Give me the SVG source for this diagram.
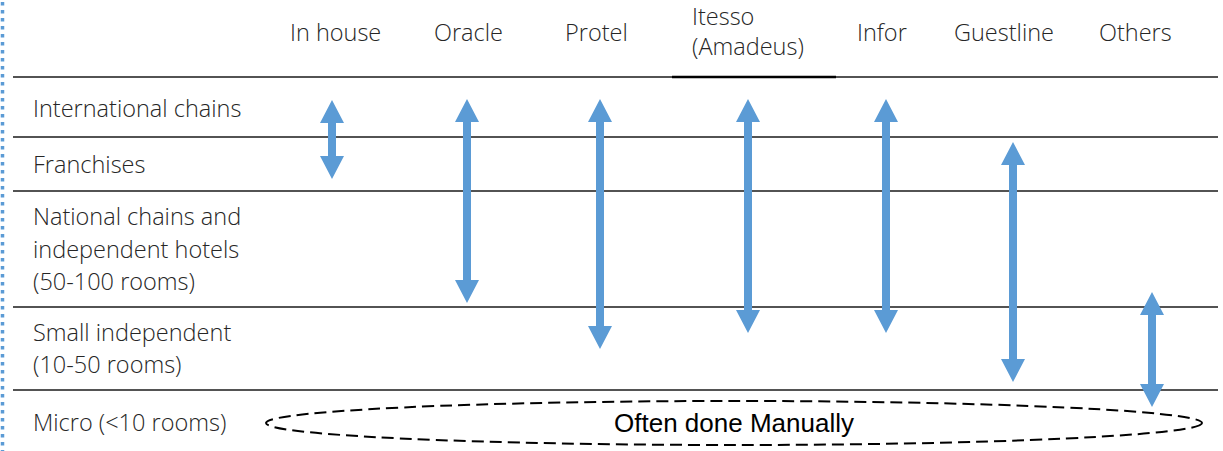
<svg xmlns="http://www.w3.org/2000/svg" width="1223" height="451" viewBox="0 0 1223 451">
<style>
.t{font-family:"Open Sans","Noto Sans",sans-serif;font-size:23.5px;fill:#262626;font-weight:300}
.ln{stroke:#1a1a1a;stroke-width:1.5;fill:none}
.ar{fill:#5B9BD5;stroke:none}
.lbl{font-family:"Liberation Sans",Arial,sans-serif;font-size:26px;fill:#000}
</style>
<rect width="1223" height="451" fill="#fff"/>
<line x1="2.5" y1="2" x2="2.5" y2="451" stroke="#5B9BD5" stroke-width="3.5" stroke-dasharray="3.5 4.5"/>
<g id="grid">
<line class="ln" x1="13" y1="77" x2="1218" y2="77"/>
<line x1="672" y1="77" x2="836" y2="77" stroke="#000" stroke-width="2.5"/>
<line class="ln" x1="13" y1="137" x2="1218" y2="137"/>
<line class="ln" x1="13" y1="191" x2="1218" y2="191"/>
<line class="ln" x1="13" y1="307" x2="1218" y2="307"/>
<line class="ln" x1="13" y1="390" x2="1218" y2="390"/>
</g>
<g id="headers">
<text class="t" x="290" y="41">In house</text>
<text class="t" x="434" y="41">Oracle</text>
<text class="t" x="565" y="41">Protel</text>
<text class="t" x="692" y="25">Itesso</text>
<text class="t" x="692" y="55">(Amadeus)</text>
<text class="t" x="857" y="41">Infor</text>
<text class="t" x="954" y="41">Guestline</text>
<text class="t" x="1099" y="41">Others</text>
</g>
<g id="rows">
<text class="t" x="33" y="117">International chains</text>
<text class="t" x="33" y="173">Franchises</text>
<text class="t" x="33" y="225">National chains and</text>
<text class="t" x="33" y="258">independent hotels</text>
<text class="t" x="33" y="290">(50-100 rooms)</text>
<text class="t" x="33" y="341">Small independent</text>
<text class="t" x="33" y="373">(10-50 rooms)</text>
<text class="t" x="33" y="431">Micro (&lt;10 rooms)</text>
</g>
<g id="connectors">
<path class="ar" d="M332,100 L344,123 L336,123 L336,156 L344,156 L332,179 L320,156 L328,156 L328,123 L320,123 Z"/>
<path class="ar" d="M467,99 L479,122 L471,122 L471,280 L479,280 L467,303 L455,280 L463,280 L463,122 L455,122 Z"/>
<path class="ar" d="M600,99 L612,122 L604,122 L604,326 L612,326 L600,349 L588,326 L596,326 L596,122 L588,122 Z"/>
<path class="ar" d="M748,99 L760,122 L752,122 L752,310 L760,310 L748,333 L736,310 L744,310 L744,122 L736,122 Z"/>
<path class="ar" d="M886,99 L898,122 L890,122 L890,310 L898,310 L886,333 L874,310 L882,310 L882,122 L874,122 Z"/>
<path class="ar" d="M1013,142 L1025,165 L1017,165 L1017,359 L1025,359 L1013,382 L1001,359 L1009,359 L1009,165 L1001,165 Z"/>
<path class="ar" d="M1152,292 L1164,315 L1156,315 L1156,384 L1164,384 L1152,407 L1140,384 L1148,384 L1148,315 L1140,315 Z"/>
</g>
<g id="micro">
<ellipse cx="734" cy="423" rx="468" ry="22" fill="none" stroke="#000" stroke-width="2" stroke-dasharray="12 6"/>
<text class="lbl" x="734" y="432" text-anchor="middle">Often done Manually</text>
</g>
</svg>
